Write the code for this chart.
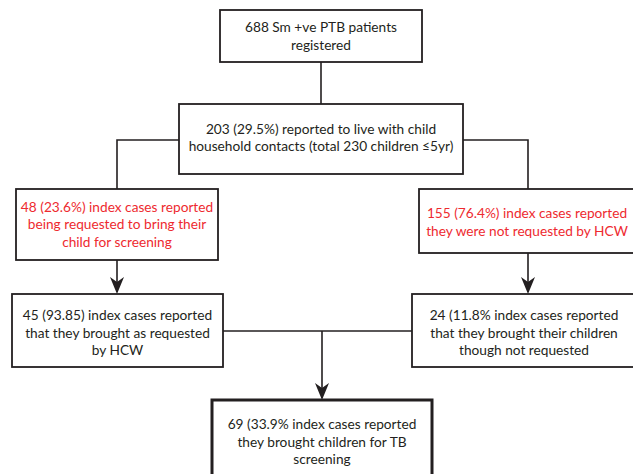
import React from 'react';

// flowchart text, one array per box
const registeredLines = ['688 Sm +ve PTB patients', 'registered'];
const householdLines = ['203 (29.5%) reported to live with child', 'household contacts (total 230 children \u22645yr)'];
const requestedLines = ['48 (23.6%) index cases reported', 'being requested to bring their', 'child for screening'];
const notRequestedLines = ['155 (76.4%) index cases reported', 'they were not requested by HCW'];
const broughtRequestedLines = ['45 (93.85) index cases reported', 'that they brought as requested', 'by HCW'];
const broughtNotRequestedLines = ['24 (11.8% index cases reported', 'that they brought their children', 'though not requested'];
const totalLines = ['69 (33.9% index cases reported', 'they brought children for TB', 'screening'];

const INK = '#231f20';
const RED = '#ee2a2f';
const FONT = 'Lato, "Open Sans", sans-serif';
const LINE_H = 17.5;

type Box = { id: string; x0: number; x1: number; y0: number; y1: number; lines: string[]; color: string; cx?: number; cy: number; sw?: number };

const boxes: Box[] = [
  { id: 'reg', x0: 220, x1: 422, y0: 10, y1: 62, lines: registeredLines, color: INK, cy: 36 },
  { id: 'hh', x0: 179, x1: 463, y0: 104, y1: 174, lines: householdLines, color: INK, cy: 137.5 },
  { id: 'req', x0: 16, x1: 218, y0: 189, y1: 260, lines: requestedLines, color: RED, cy: 224.5 },
  { id: 'noreq', x0: 419, x1: 640, y0: 189, y1: 253, lines: notRequestedLines, color: RED, cx: 527, cy: 222 },
  { id: 'brq', x0: 12, x1: 223, y0: 294, y1: 367, lines: broughtRequestedLines, color: INK, cy: 333 },
  { id: 'bnr', x0: 412, x1: 640, y0: 294, y1: 367, lines: broughtNotRequestedLines, color: INK, cx: 524, cy: 333 },
  { id: 'tot', x0: 212, x1: 432, y0: 400, y1: 486, lines: totalLines, color: INK, cy: 442, sw: 3 },
];

// connectors as polylines [x, y]
const connectors: [number, number][][] = [
  [[321, 62], [321, 104]],
  [[179, 140], [117, 140], [117, 189]],
  [[463, 140], [528, 140], [528, 189]],
  [[117, 260], [117, 292]],
  [[528, 253], [528, 292]],
  [[223, 331], [412, 331]],
  [[322, 331], [322, 398]],
];
const arrowTips: [number, number][] = [[117, 294], [528, 294], [322, 400]];

function arrowPath([x, y]: [number, number]) {
  return `M${x},${y} L${x - 7},${y - 17} L${x},${y - 12} L${x + 7},${y - 17} Z`;
}

export default function App() {
  return (
    <svg width={633} height={474} style={{ position: 'absolute', left: 0, top: 0, background: '#fff' }}>
      <rect width={633} height={474} fill="#fff" />
      {connectors.map((pts, i) => (
        <polyline key={i} points={pts.map((p) => p.join(',')).join(' ')} fill="none" stroke={INK} strokeWidth={1.6} />
      ))}
      {arrowTips.map((t, i) => (
        <path key={i} d={arrowPath(t)} fill={INK} />
      ))}
      {boxes.map((b) => {
        const cx = b.cx ?? (b.x0 + b.x1) / 2;
        const top = b.cy - ((b.lines.length - 1) * LINE_H) / 2;
        return (
          <g key={b.id}>
            <rect x={b.x0} y={b.y0} width={b.x1 - b.x0} height={b.y1 - b.y0} fill="#fff" stroke={INK} strokeWidth={b.sw ?? 1.8} />
            {b.lines.map((l, i) => (
              <text key={i} x={cx} y={top + i * LINE_H} dy="0.35em" textAnchor="middle" fill={b.color} fontFamily={FONT} fontSize={13.7}>
                {l}
              </text>
            ))}
          </g>
        );
      })}
    </svg>
  );
}
